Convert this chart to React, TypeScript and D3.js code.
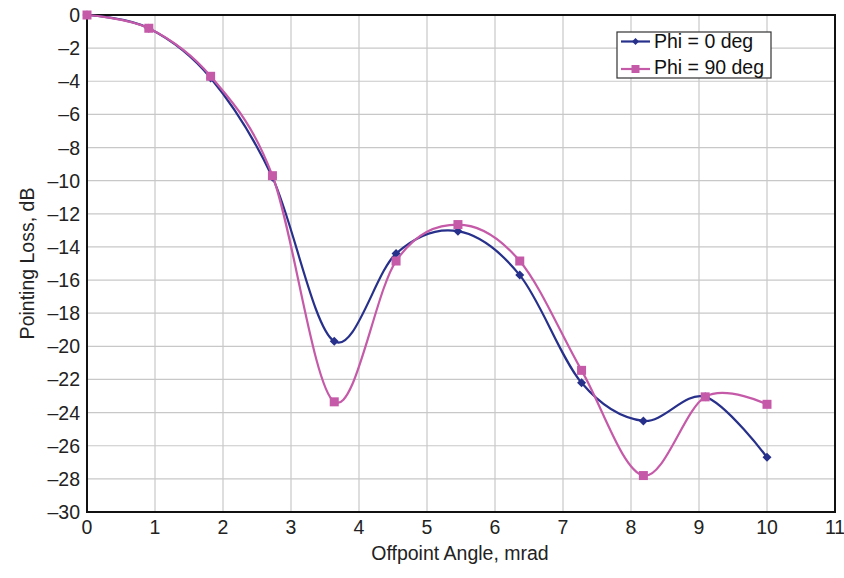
import React from "react";
import * as d3 from "d3";

const angles = [0, 0.909, 1.818, 2.727, 3.636, 4.545, 5.455, 6.364, 7.273, 8.182, 9.091, 10];
const phi0 = [0, -0.8, -3.8, -9.8, -19.7, -14.4, -13.05, -15.7, -22.2, -24.5, -23.05, -26.7];
const phi90 = [0, -0.8, -3.7, -9.7, -23.35, -14.85, -12.65, -14.85, -21.45, -27.8, -23.05, -23.5];
const xTicks = [0, 1, 2, 3, 4, 5, 6, 7, 8, 9, 10, 11];
const yTicks = [0, -2, -4, -6, -8, -10, -12, -14, -16, -18, -20, -22, -24, -26, -28, -30];
const seriesNames = ["Phi = 0 deg", "Phi = 90 deg"];

const W = 844, H = 578;
const L = 87, R = 835, T = 15, B = 512;
const BLUE = "#27308a";
const PINK = "#c55aa9";
const FONT = "Liberation Sans, Arial, sans-serif";

export default function App() {
  const x = d3.scaleLinear().domain([0, 11]).range([L, R]);
  const y = d3.scaleLinear().domain([-30, 0]).range([B, T]);
  const line = d3
    .line<number>()
    .x((_, i) => x(angles[i]))
    .y((d) => y(d))
    .curve(d3.curveCardinal.tension(0));
  const fmt = (v: number) => (v < 0 ? "\u2013" + Math.abs(v) : String(v));
  const diamond = (cx: number, cy: number, s = 4.5) =>
    `M${cx},${cy - s}L${cx + s},${cy}L${cx},${cy + s}L${cx - s},${cy}Z`;

  return (
    <svg width={W} height={H} style={{ position: "absolute", left: 0, top: 0, background: "#fff" }} fontFamily={FONT}>
      <rect x={0} y={0} width={W} height={H} fill="#fff" />
      {xTicks.map((t) => (
        <line key={"gx" + t} x1={x(t)} x2={x(t)} y1={T} y2={B} stroke="#c8c8c8" strokeWidth={1.2} />
      ))}
      {yTicks.map((t) => (
        <line key={"gy" + t} x1={L} x2={R} y1={y(t)} y2={y(t)} stroke="#c8c8c8" strokeWidth={1.2} />
      ))}
      <rect x={L} y={T} width={R - L} height={B - T} fill="none" stroke="#111" strokeWidth={2} />
      {yTicks.map((t) => (
        <text key={"ty" + t} x={L - 7} y={y(t)} dy="0.36em" textAnchor="end" fontSize={19.5} fill="#222">
          {fmt(t)}
        </text>
      ))}
      {xTicks.map((t) => (
        <text key={"tx" + t} x={x(t)} y={B + 22} textAnchor="middle" fontSize={19.5} fill="#222">
          {t}
        </text>
      ))}
      <text x={460} y={560} textAnchor="middle" fontSize={19.5} fill="#222">
        Offpoint Angle, mrad
      </text>
      <text transform={`translate(34,${(T + B) / 2}) rotate(-90)`} textAnchor="middle" fontSize={19.5} fill="#222">
        Pointing Loss, dB
      </text>
      <path d={line(phi0) || ""} fill="none" stroke={BLUE} strokeWidth={2.2} />
      <path d={line(phi90) || ""} fill="none" stroke={PINK} strokeWidth={2.2} />
      {phi0.map((v, i) => (
        <path key={"m0" + i} d={diamond(x(angles[i]), y(v))} fill={BLUE} />
      ))}
      {phi90.map((v, i) => (
        <rect key={"m9" + i} x={x(angles[i]) - 4.5} y={y(v) - 4.5} width={9} height={9} fill={PINK} />
      ))}
      <g>
        <rect x={617} y={32} width={154} height={46} fill="#fff" stroke="#333" strokeWidth={1.2} />
        <line x1={621} x2={650} y1={41.5} y2={41.5} stroke={BLUE} strokeWidth={2.2} />
        <path d={diamond(635.5, 41.5, 3.5)} fill={BLUE} />
        <text x={654} y={48} fontSize={19.5} fill="#111">{seriesNames[0]}</text>
        <line x1={621} x2={650} y1={69} y2={69} stroke={PINK} strokeWidth={2.2} />
        <rect x={631.5} y={65} width={8} height={8} fill={PINK} />
        <text x={654} y={73.5} fontSize={19.5} fill="#111">{seriesNames[1]}</text>
      </g>
    </svg>
  );
}
